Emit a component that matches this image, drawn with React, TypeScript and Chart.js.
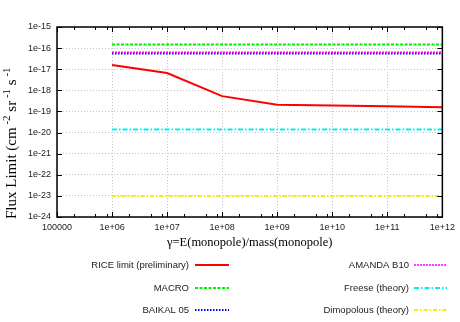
import React, { useEffect, useRef } from 'react';
import { Chart, registerables } from 'chart.js';

Chart.register(...registerables);

// ---- data ----
const energies = [1e6, 1e7, 1e8, 1e9, 1e10, 1e11, 1e12];
const riceLimit = [1.6e-17, 6.6e-18, 5.3e-19, 2.1e-19, 1.9e-19, 1.75e-19, 1.56e-19];
const macroLimit = [1.5e-16, 1.5e-16, 1.5e-16, 1.5e-16, 1.5e-16, 1.5e-16, 1.5e-16];
const baikalLimit = [5.5e-17, 5.5e-17, 5.5e-17, 5.5e-17, 5.5e-17, 5.5e-17, 5.5e-17];
const amandaLimit = [6.4e-17, 6.4e-17, 6.4e-17, 6.4e-17, 6.4e-17, 6.4e-17, 6.4e-17];
const freeseTheory = [1.4e-20, 1.4e-20, 1.4e-20, 1.4e-20, 1.4e-20, 1.4e-20, 1.4e-20];
const dimopoulosTheory = [1e-23, 1e-23, 1e-23, 1e-23, 1e-23, 1e-23, 1e-23];

const xTickValues = [1e5, 1e6, 1e7, 1e8, 1e9, 1e10, 1e11, 1e12];
const yTickValues = [1e-24, 1e-23, 1e-22, 1e-21, 1e-20, 1e-19, 1e-18, 1e-17, 1e-16, 1e-15];

const seriesNames = [
  'RICE limit (preliminary)',
  'MACRO',
  'BAIKAL 05',
  'AMANDA B10',
  'Freese (theory)',
  'Dimopolous (theory)',
];
const xTitle = 'γ=E(monopole)/mass(monopole)';

const fmtExp = (v: number, plus: boolean) => {
  const e = Math.round(Math.log10(v));
  const a = Math.abs(e);
  const s = e < 0 ? '-' : plus ? '+' : '';
  return '1e' + s + (a < 10 ? '0' + a : String(a));
};

const SERIF = '"Liberation Serif", "DejaVu Serif", serif';
const SANS = '"Liberation Sans", Arial, sans-serif';

const styles = [
  { color: '#ff0000', width: 2, dash: [] as number[] },
  { color: '#00ee00', width: 2, dash: [3, 1.5] },
  { color: '#0000ff', width: 2, dash: [1.5, 1.5] },
  { color: '#ff00ff', width: 1.6, dash: [2, 1] },
  { color: '#00f0f0', width: 2, dash: [5, 2, 1.5, 2] },
  { color: '#f0f000', width: 2, dash: [4, 2, 1.5, 2] },
];

const framePlugin = {
  id: 'gnuFrame',
  afterDraw(chart: any) {
    const { ctx, chartArea } = chart;
    const { left, right, top, bottom } = chartArea;
    const xs = chart.scales.x;
    const ys = chart.scales.y;
    ctx.save();
    // inward ticks
    ctx.strokeStyle = '#000';
    ctx.lineWidth = 1;
    ctx.setLineDash([]);
    ctx.beginPath();
    xTickValues.forEach((v, i) => {
      const px = Math.round(xs.getPixelForValue(v)) + 0.5;
      ctx.moveTo(px, bottom); ctx.lineTo(px, bottom - 5);
      ctx.moveTo(px, top); ctx.lineTo(px, top + 5);
      if (i < xTickValues.length - 1) {
        [2, 5, 8].forEach((m) => {
          const mx = Math.round(xs.getPixelForValue(v * m)) + 0.5;
          ctx.moveTo(mx, bottom); ctx.lineTo(mx, bottom - 3);
          ctx.moveTo(mx, top); ctx.lineTo(mx, top + 3);
        });
      }
    });
    yTickValues.forEach((v) => {
      const py = Math.round(ys.getPixelForValue(v)) + 0.5;
      ctx.moveTo(left, py); ctx.lineTo(left + 5, py);
      ctx.moveTo(right, py); ctx.lineTo(right - 5, py);
    });
    ctx.stroke();
    // frame
    ctx.lineWidth = 1.5;
    ctx.strokeRect(left, top, right - left, bottom - top);

    // x title
    ctx.fillStyle = '#000';
    ctx.font = `12.5px ${SERIF}`;
    ctx.textAlign = 'center';
    ctx.textBaseline = 'alphabetic';
    ctx.fillText(xTitle, (left + right) / 2, 246);

    // y title with superscripts
    ctx.save();
    ctx.translate(16, 219);
    ctx.rotate(-Math.PI / 2);
    ctx.textAlign = 'left';
    const parts = [
      { t: 'Flux Limit (cm', sup: false },
      { t: ' -2', sup: true },
      { t: ' sr', sup: false },
      { t: ' -1', sup: true },
      { t: ' s', sup: false },
      { t: ' -1', sup: true },
    ];
    let cx = 0;
    parts.forEach((p) => {
      ctx.font = p.sup ? `11px ${SERIF}` : `15px ${SERIF}`;
      ctx.fillText(p.t, cx, p.sup ? -6 : 0);
      cx += ctx.measureText(p.t).width;
    });
    ctx.restore();

    // legend
    const cols = [
      { textRight: 189, lineFrom: 195, lineTo: 229 },
      { textRight: 409, lineFrom: 414, lineTo: 447 },
    ];
    const rows = [265, 288, 310];
    chart.data.datasets.forEach((ds: any, i: number) => {
      const col = cols[Math.floor(i / 3)];
      const ry = rows[i % 3];
      ctx.font = `9.5px ${SANS}`;
      ctx.fillStyle = '#222';
      ctx.textAlign = 'right';
      ctx.textBaseline = 'middle';
      ctx.fillText(ds.label, col.textRight, ry);
      ctx.strokeStyle = ds.borderColor;
      ctx.lineWidth = ds.borderWidth;
      ctx.setLineDash(ds.borderDash || []);
      ctx.beginPath();
      ctx.moveTo(col.lineFrom, ry);
      ctx.lineTo(col.lineTo, ry);
      ctx.stroke();
    });
    ctx.restore();
  },
};

export default function App() {
  const ref = useRef<HTMLCanvasElement | null>(null);
  useEffect(() => {
    if (!ref.current) return;
    const seriesValues = [riceLimit, macroLimit, baikalLimit, amandaLimit, freeseTheory, dimopoulosTheory];
    const chart = new Chart(ref.current, {
      type: 'line',
      data: {
        datasets: seriesValues.map((vals, i) => ({
          label: seriesNames[i],
          data: energies.map((x, j) => ({ x, y: vals[j] })),
          borderColor: styles[i].color,
          borderWidth: styles[i].width,
          borderDash: styles[i].dash,
          pointRadius: 0,
          tension: 0,
          fill: false,
          order: 6 - i,
        })),
      },
      options: {
        responsive: false,
        animation: false,
        layout: { padding: { left: 0, top: 27, right: 16, bottom: 75 } },
        plugins: { legend: { display: false }, tooltip: { enabled: false } },
        scales: {
          x: {
            type: 'logarithmic',
            min: 1e5,
            max: 1e12,
            afterBuildTicks: (axis: any) => {
              axis.ticks = xTickValues.map((v) => ({ value: v }));
            },
            afterFit: (axis: any) => {
              axis.height = 30;
            },
            ticks: {
              autoSkip: false,
              maxRotation: 0,
              padding: 5,
              color: '#222',
              font: { family: SANS, size: 9 },
              callback: (v: any) => (Number(v) === 1e5 ? '100000' : fmtExp(Number(v), true)),
            },
            grid: { color: '#c4c4c4', lineWidth: 1, drawTicks: false },
            border: { display: false, dash: [1, 2] },
          },
          y: {
            type: 'logarithmic',
            min: 1e-24,
            max: 1e-15,
            afterBuildTicks: (axis: any) => {
              axis.ticks = yTickValues.map((v) => ({ value: v }));
            },
            afterFit: (axis: any) => {
              axis.width = 57;
            },
            ticks: {
              autoSkip: false,
              padding: 6,
              color: '#222',
              font: { family: SANS, size: 9 },
              callback: (v: any) => fmtExp(Number(v), false),
            },
            grid: { color: '#c4c4c4', lineWidth: 1, drawTicks: false },
            border: { display: false, dash: [1, 2] },
          },
        },
      } as any,
      plugins: [framePlugin],
    });
    return () => chart.destroy();
  }, []);
  return (
    <div style={{ position: 'fixed', left: 0, top: 0, width: 460, height: 322, background: '#fff' }}>
      <canvas ref={ref} width={460} height={322} />
    </div>
  );
}
